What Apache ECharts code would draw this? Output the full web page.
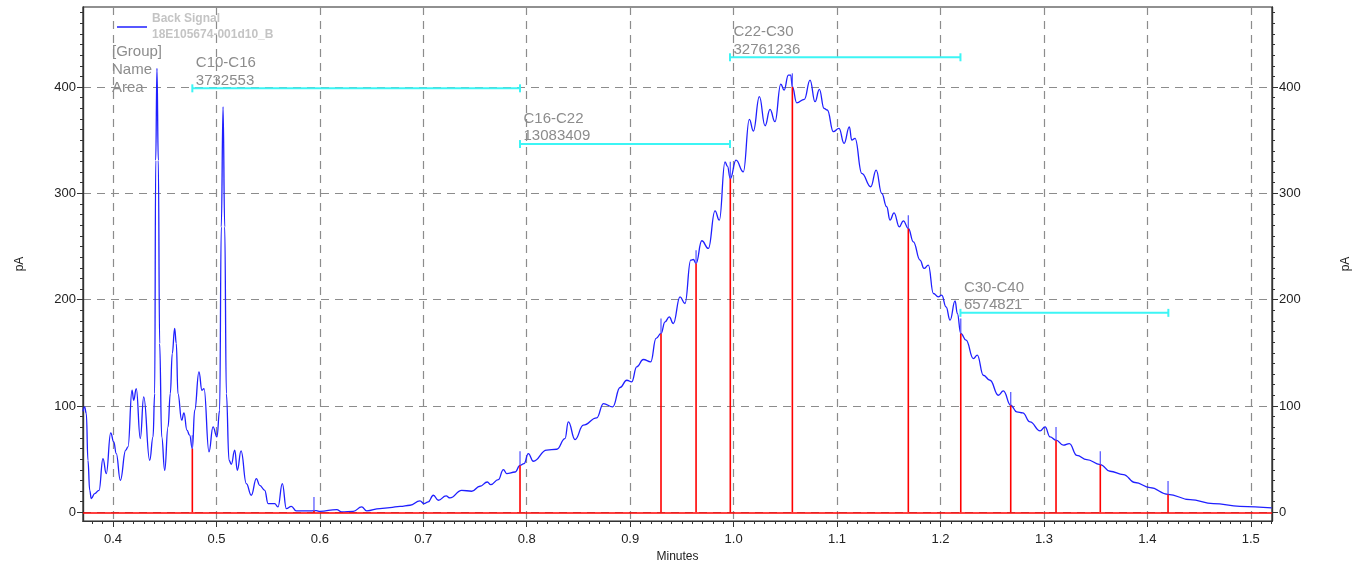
<!DOCTYPE html>
<html>
<head>
<meta charset="utf-8">
<title>Back Signal</title>
<script src="https://cdn.jsdelivr.net/npm/echarts@6.0.0/dist/echarts.min.js"></script>
<style>
    html, body { margin: 0; padding: 0; background: #fff; }
    #chart { width: 1364px; height: 571px; }
</style>
</head>
<body>
<div id="chart"></div>
<script>
// retention time (min) / detector signal (pA)
var retentionTimes = [
    0.3710, 0.3726, 0.3742, 0.3758, 0.3775, 0.3790, 0.3823, 0.3865, 0.3903, 0.3935,
    0.3978, 0.4007, 0.4032, 0.4071, 0.4123, 0.4145, 0.4184, 0.4200, 0.4225, 0.4264,
    0.4297, 0.4355, 0.4387, 0.4403, 0.4413, 0.4425, 0.4438, 0.4451, 0.4471, 0.4500,
    0.4532, 0.4554, 0.4573, 0.4596, 0.4612, 0.4628, 0.4664, 0.4686, 0.4715, 0.4741,
    0.4767, 0.4790, 0.4831, 0.4860, 0.4880, 0.4928, 0.4967, 0.5005, 0.5031, 0.5047,
    0.5064, 0.5080, 0.5096, 0.5122, 0.5144, 0.5177, 0.5202, 0.5238, 0.5289, 0.5337,
    0.5386, 0.5418, 0.5467, 0.5499, 0.5563, 0.5595, 0.5637, 0.5676, 0.5724, 0.5772,
    0.5870, 0.5966, 0.6001, 0.6163, 0.6211, 0.6323, 0.6404, 0.6453, 0.6581, 0.6678,
    0.6775, 0.6872, 0.6968, 0.7007, 0.7048, 0.7097, 0.7145, 0.7220, 0.7258, 0.7371,
    0.7468, 0.7548, 0.7619, 0.7652, 0.7725, 0.7774, 0.7806, 0.7887, 0.7935, 0.7974,
    0.8015, 0.8064, 0.8193, 0.8290, 0.8370, 0.8402, 0.8467, 0.8547, 0.8677, 0.8741,
    0.8831, 0.8902, 0.8967, 0.9015, 0.9063, 0.9127, 0.9199, 0.9250, 0.9298, 0.9337,
    0.9378, 0.9417, 0.9482, 0.9530, 0.9585, 0.9611, 0.9637, 0.9692, 0.9756, 0.9820,
    0.9862, 0.9917, 0.9940, 0.9968, 1.0023, 1.0094, 1.0152, 1.0191, 1.0249, 1.0304,
    1.0352, 1.0400, 1.0456, 1.0488, 1.0529, 1.0552, 1.0568, 1.0610, 1.0684, 1.0739,
    1.0787, 1.0829, 1.0874, 1.0906, 1.0964, 1.1019, 1.1068, 1.1119, 1.1142, 1.1174,
    1.1239, 1.1326, 1.1378, 1.1432, 1.1480, 1.1512, 1.1551, 1.1602, 1.1641, 1.1689,
    1.1738, 1.1802, 1.1841, 1.1883, 1.1931, 1.1979, 1.2012, 1.2054, 1.2093, 1.2141,
    1.2163, 1.2196, 1.2247, 1.2318, 1.2356, 1.2414, 1.2479, 1.2559, 1.2608, 1.2679,
    1.2737, 1.2795, 1.2866, 1.2963, 1.3011, 1.3059, 1.3117, 1.3188, 1.3246, 1.3318,
    1.3414, 1.3545, 1.3639, 1.3768, 1.3881, 1.4026, 1.4200, 1.4413, 1.4638, 1.4896,
    1.5202
];
var signalPA = [
    95.0, 99.1, 92.9, 48.9, 20.7, 12.9, 17.6, 20.7, 50.5, 36.4,
    74.7, 66.2, 55.2, 30.1, 58.4, 61.5, 114.8, 105.4, 116.4, 69.3,
    108.5, 48.9, 70.9, 111.7, 331.0, 417.6, 331.0, 158.8, 70.9, 39.5,
    80.3, 111.7, 149.3, 172.9, 158.8, 111.7, 86.6, 93.5, 77.2, 72.5,
    59.9, 96.0, 132.0, 114.8, 116.4, 56.8, 80.3, 70.9, 96.0, 268.5,
    381.5, 268.5, 111.7, 48.9, 45.2, 58.4, 39.5, 57.7, 27.0, 16.0,
    31.7, 25.4, 20.7, 8.2, 8.2, 5.0, 27.0, 3.5, 5.6, 1.3,
    1.3, 1.5, 0.9, 2.5, 0.3, 0.9, 5.0, 1.3, 3.5, 4.4,
    5.6, 6.6, 10.7, 8.2, 9.7, 16.0, 11.3, 15.4, 13.5, 20.7,
    19.8, 24.5, 28.5, 26.0, 30.7, 40.2, 36.4, 37.9, 44.2, 45.8,
    55.2, 48.0, 58.4, 59.3, 69.3, 85.0, 68.4, 81.9, 88.8, 102.3,
    99.1, 117.4, 124.2, 122.7, 136.8, 143.7, 141.5, 163.5, 168.2, 179.1,
    183.8, 177.6, 202.6, 196.4, 237.2, 237.8, 234.1, 255.4, 248.2, 283.6,
    274.8, 329.7, 325.6, 314.0, 331.3, 320.3, 369.6, 358.6, 390.9, 363.6,
    379.0, 367.4, 402.8, 397.2, 411.3, 411.3, 400.3, 385.2, 388.4, 406.6,
    386.2, 397.8, 380.0, 378.4, 358.0, 361.1, 347.0, 362.6, 350.1, 351.7,
    318.8, 306.2, 321.9, 300.0, 287.4, 274.8, 281.7, 268.5, 274.2, 267.0,
    254.4, 237.2, 229.4, 232.5, 205.8, 202.6, 204.2, 193.2, 180.7, 198.9,
    187.0, 168.2, 161.9, 144.6, 147.8, 128.9, 124.2, 110.1, 114.2, 100.7,
    94.4, 93.5, 85.0, 76.5, 80.3, 70.9, 67.8, 63.1, 64.6, 53.6,
    49.6, 44.9, 38.6, 35.5, 28.0, 23.2, 16.9, 11.9, 8.2, 5.6,
    4.1
];

// integration cut points: drop line height and peak marker top
var dropTimes   = [0.4767, 0.5943, 0.7935, 0.9298, 0.9637, 0.9968, 1.0568, 1.1689, 1.2196, 1.2679, 1.3117, 1.3545, 1.4200];
var dropHeights = [59.9, 1.5, 44.2, 168.2, 234.1, 314.0, 400.3, 267.0, 168.2, 100.7, 67.8, 44.9, 16.9];
var markTops    = [72.5, 14.4, 57.4, 182.3, 246.6, 329.7, 412.9, 279.5, 182.3, 113.2, 80.3, 57.4, 29.5];

// named groups
var groupNames  = ['C10-C16', 'C16-C22', 'C22-C30', 'C30-C40'];
var groupAreas  = [3732553, 13083409, 32761236, 6574821];
var groupStarts = [0.4767, 0.7935, 0.9965, 1.2193];
var groupEnds   = [0.7935, 0.9965, 1.2193, 1.4203];
var groupLevels = [398.8, 346.4, 428.0, 187.6];

// axis ticks
var xTicks = [0.4, 0.5, 0.6, 0.7, 0.8, 0.9, 1.0, 1.1, 1.2, 1.3, 1.4, 1.5];
var yTicks = [0, 100, 200, 300, 400];

function steps(from, to, step) {
    var out = [];
    for (var i = 0; from + i * step <= to + 1e-9; i++) {
        out.push(+(from + i * step).toFixed(4));
    }
    return out;
}
var xMinor = steps(0.38, 1.52, 0.01);
var yMinor = steps(0, 470, 10);

var X_MIN = 0.371, X_MAX = 1.5205;
var Y_MIN = -8.2, Y_MAX = 475.3;
var FONT = 'Liberation Sans';
var GRID_LINE = {color: '#8c8c8c', type: [8, 6], width: 1.2};

function yAxisOf(pos, major) {
    return {
        type: 'value',
        position: pos,
        offset: 0,
        min: Y_MIN,
        max: Y_MAX,
        splitNumber: 5,
        name: major ? 'pA' : '',
        nameLocation: 'middle',
        nameRotate: 90,
        nameGap: pos === 'left' ? 57 : 68,
        nameTextStyle: {color: '#222', fontSize: 12, fontFamily: FONT},
        axisLine: {show: true, lineStyle: {color: '#333', width: 1.2}},
        axisTick: {
            show: true,
            customValues: major ? yTicks : yMinor,
            length: major ? 6 : 3,
            lineStyle: {color: '#333'}
        },
        axisLabel: {
            show: major,
            customValues: yTicks,
            color: '#222',
            fontSize: 13,
            fontFamily: FONT,
            margin: 7
        },
        splitLine: {show: major && pos === 'left', lineStyle: GRID_LINE}
    };
}

function xAxisOf(major) {
    return {
        type: 'value',
        position: 'bottom',
        offset: 0,
        min: X_MIN,
        max: X_MAX,
        splitNumber: 11,
        name: major ? 'Minutes' : '',
        nameLocation: 'middle',
        nameGap: 30,
        nameTextStyle: {color: '#222', fontSize: 12, fontFamily: FONT},
        axisLine: {show: true, onZero: false, lineStyle: {color: '#333', width: 1.2}},
        axisTick: {
            show: true,
            customValues: major ? xTicks : xMinor,
            length: major ? 6 : 3,
            lineStyle: {color: '#333'}
        },
        axisLabel: {
            show: major,
            customValues: xTicks,
            color: '#222',
            fontSize: 13,
            fontFamily: FONT,
            margin: 12,
            formatter: function (v) { return v.toFixed(1); }
        },
        splitLine: {show: major, lineStyle: GRID_LINE}
    };
}

var signalData = retentionTimes.map(function (t, i) { return [t, signalPA[i]]; });
var dropData = dropTimes.map(function (t, i) { return [t, dropHeights[i], markTops[i]]; });
var groupData = groupNames.map(function (n, i) { return [groupStarts[i], groupEnds[i], groupLevels[i]]; });

var option = {
    animation: false,
    textStyle: {fontFamily: FONT},
    grid: {
        show: true,
        left: 83,
        right: 92,
        top: 7,
        bottom: 50,
        borderColor: '#222',
        borderWidth: 1.2,
        outerBoundsMode: 'none'
    },
    legend: {
        left: 112,
        top: 6,
        icon: 'rect',
        itemWidth: 30,
        itemHeight: 1.5,
        data: ['Back Signal'],
        formatter: function (name) { return name + '\n18E105674-001d10_B'; },
        textStyle: {
            color: '#c4c4c4',
            fontWeight: 'bold',
            fontSize: 12,
            lineHeight: 16
        }
    },
    graphic: [{
        type: 'text',
        left: 112,
        top: 43,
        style: {
            text: '[Group]\nName\nArea',
            fill: '#8c8c8c',
            fontSize: 15,
            fontFamily: FONT,
            lineHeight: 17.8
        }
    }],
    xAxis: [xAxisOf(true), xAxisOf(false)],
    yAxis: [yAxisOf('left', true), yAxisOf('left', false), yAxisOf('right', true), yAxisOf('right', false)],
    series: [
        {
            name: 'Back Signal',
            type: 'line',
            xAxisIndex: 0,
            yAxisIndex: 0,
            data: signalData,
            showSymbol: false,
            smooth: 0.45,
            smoothMonotone: 'x',
            color: '#1f1fff',
            lineStyle: {width: 1.3, color: '#1f1fff'},
            markLine: {
                silent: true,
                symbol: 'none',
                label: {show: false},
                lineStyle: {color: '#ff0000', type: 'solid', width: 1.6},
                data: [{yAxis: 0}]
            },
            z: 3
        },
        {
            // drop lines at the cut points, with the short peak markers above
            type: 'custom',
            xAxisIndex: 0,
            yAxisIndex: 0,
            data: dropData,
            z: 4,
            renderItem: function (params, api) {
                var p0 = api.coord([api.value(0), 0]);
                var p1 = api.coord([api.value(0), api.value(1)]);
                var p2 = api.coord([api.value(0), api.value(2)]);
                return {
                    type: 'group',
                    children: [
                        {type: 'line', shape: {x1: p0[0], y1: p0[1], x2: p1[0], y2: p1[1]},
                            style: {stroke: '#ff0000', lineWidth: 1.6}},
                        {type: 'line', shape: {x1: p1[0], y1: p1[1], x2: p2[0], y2: p2[1]},
                            style: {stroke: '#5c5cff', lineWidth: 1.3}}
                    ]
                };
            }
        },
        {
            // group brackets with name / area
            type: 'custom',
            xAxisIndex: 0,
            yAxisIndex: 0,
            data: groupData,
            z: 5,
            renderItem: function (params, api) {
                var i = params.dataIndex;
                var a = api.coord([api.value(0), api.value(2)]);
                var b = api.coord([api.value(1), api.value(2)]);
                var cyan = {stroke: '#3cf5f5', lineWidth: 2};
                return {
                    type: 'group',
                    children: [
                        {type: 'line', shape: {x1: a[0], y1: a[1], x2: b[0], y2: b[1]}, style: cyan},
                        {type: 'line', shape: {x1: a[0], y1: a[1] - 4, x2: a[0], y2: a[1] + 4}, style: cyan},
                        {type: 'line', shape: {x1: b[0], y1: b[1] - 4, x2: b[0], y2: b[1] + 4}, style: cyan},
                        {
                            type: 'text',
                            x: a[0] + 3.5,
                            y: a[1] + 1,
                            style: {
                                text: groupNames[i] + '\n' + groupAreas[i],
                                fill: '#8c8c8c',
                                fontSize: 15,
                                fontFamily: FONT,
                                lineHeight: 17.6,
                                verticalAlign: 'bottom'
                            }
                        }
                    ]
                };
            }
        }
    ]
};

var chart = echarts.init(document.getElementById('chart'));
chart.setOption(option);
</script>
</body>
</html>
